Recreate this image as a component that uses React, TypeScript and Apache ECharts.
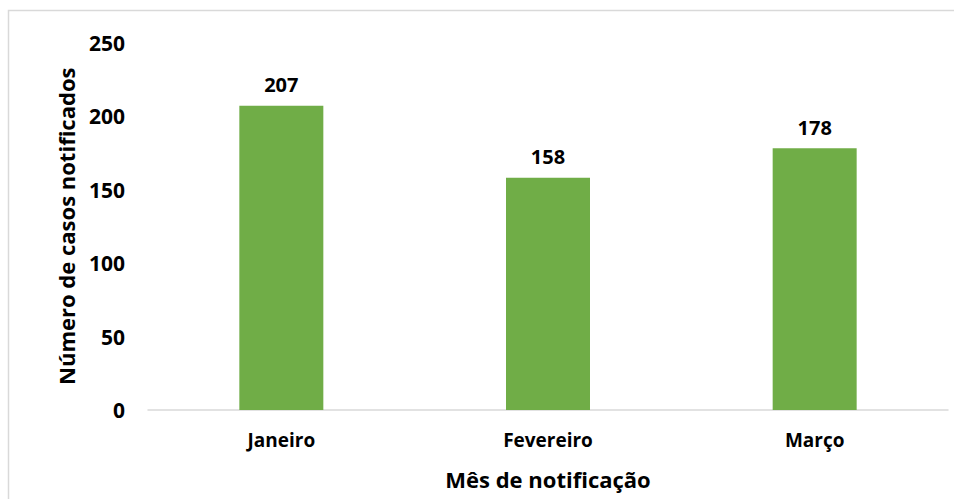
import React, { useEffect, useRef } from "react";
import * as echarts from "echarts";

const categories = ["Janeiro", "Fevereiro", "Março"];
const values = [207, 158, 178];
const yTicks = [0, 50, 100, 150, 200, 250];
const xTitle = "Mês de notificação";
const yTitle = "Número de casos notificados";

const FONT = "'Open Sans', sans-serif";

export default function App() {
  const ref = useRef<HTMLDivElement>(null);
  useEffect(() => {
    if (!ref.current) return;
    const chart = echarts.init(ref.current, null, { renderer: "svg" });
    chart.setOption({
      animation: false,
      backgroundColor: "#ffffff",
      textStyle: { fontFamily: FONT },
      graphic: [
        {
          type: "rect",
          silent: true,
          z: -1,
          shape: { x: 8.5, y: 10.5, width: 1200, height: 1200 },
          style: { fill: "none", stroke: "#d9d9d9", lineWidth: 1.5 },
        },
      ],
      grid: { left: 148, right: 6, top: 42.5, bottom: 89, containLabel: false },
      xAxis: {
        type: "category",
        data: categories,
        name: xTitle,
        nameLocation: "middle",
        nameGap: 58,
        nameTextStyle: { fontFamily: FONT, fontWeight: "bold", fontSize: 22, color: "#000" },
        axisLine: { lineStyle: { color: "#d9d9d9", width: 1.5 } },
        axisTick: { show: false },
        axisLabel: { fontFamily: FONT, fontWeight: "bold", fontSize: 19, color: "#000", margin: 20 },
      },
      yAxis: {
        type: "value",
        min: yTicks[0],
        max: yTicks[yTicks.length - 1],
        interval: yTicks[1] - yTicks[0],
        name: yTitle,
        nameLocation: "middle",
        nameGap: 71,
        nameTextStyle: { fontFamily: FONT, fontWeight: "bold", fontSize: 22, color: "#000" },
        axisLine: { show: false },
        axisTick: { show: false },
        splitLine: { show: false },
        axisLabel: { fontFamily: FONT, fontWeight: "bold", fontSize: 21, color: "#000", margin: 23 },
      },
      series: [
        {
          type: "bar",
          data: values,
          barWidth: "31.5%",
          itemStyle: { color: "#70AD47" },
          label: {
            show: true,
            position: "top",
            distance: 11,
            fontFamily: FONT,
            fontWeight: "bold",
            fontSize: 20,
            color: "#000",
          },
        },
      ],
    });
    return () => chart.dispose();
  }, []);
  return (
    <div
      ref={ref}
      style={{ position: "fixed", left: 0, top: 0, width: 954, height: 499 }}
    />
  );
}
